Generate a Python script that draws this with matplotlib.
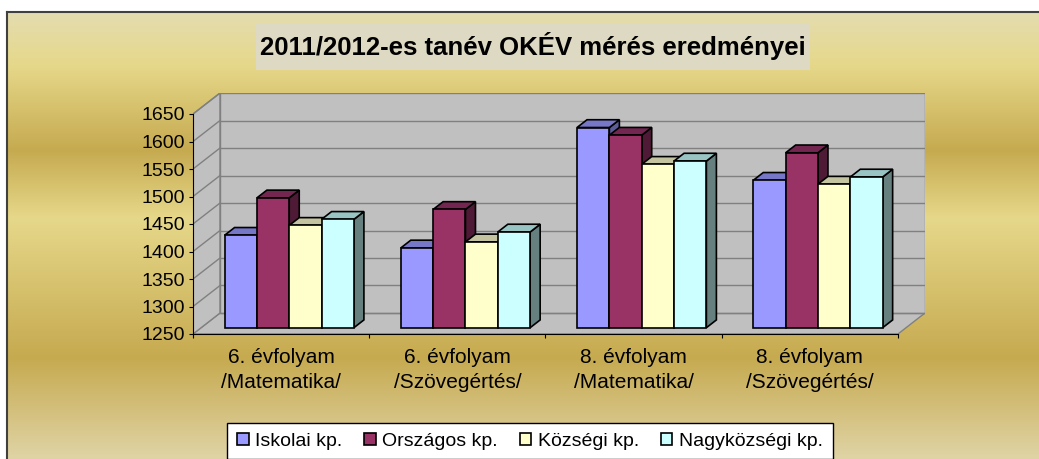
import matplotlib
matplotlib.use('Agg')
import matplotlib.pyplot as plt
from matplotlib.patches import Polygon, Rectangle, Patch
import numpy as np

plt.rcParams['font.family'] = ['Liberation Sans', 'DejaVu Sans']

# data
categories = ['6. évfolyam\n/Matematika/', '6. évfolyam\n/Szövegértés/',
              '8. évfolyam\n/Matematika/', '8. évfolyam\n/Szövegértés/']
series = ['Iskolai kp.', 'Országos kp.', 'Községi kp.', 'Nagyközségi kp.']
iskolai = [1418, 1395, 1614, 1518]
orszagos = [1486, 1465, 1600, 1568]
kozsegi = [1436, 1406, 1547, 1511]
nagykozsegi = [1447, 1424, 1553, 1524]
values = [iskolai, orszagos, kozsegi, nagykozsegi]
yticks = list(range(1250, 1651, 50))

front_cols = ['#9999ff', '#993366', '#ffffcc', '#ccffff']
top_cols = ['#7777c8', '#722650', '#c4c4a0', '#99c4c4']
side_cols = ['#5c5c99', '#4f1a35', '#80806a', '#668080']

W, H = 1039, 459
fig = plt.figure(figsize=(W / 100, H / 100), dpi=100)
fig.patch.set_facecolor('white')

# gold gradient background with border
bg = fig.add_axes([7 / W, 0, 1 - 7 / W, (H - 12) / H])
stops_y = [12, 65, 150, 218, 358, 459]
stops_c = ['#e4dcb0', '#e6d88a', '#c6aa50', '#e6d88a', '#c6aa50', '#e0d4a6']
rgb = np.array([matplotlib.colors.to_rgb(c) for c in stops_c])
yy = np.arange(12, 460)
grad = np.stack([np.interp(yy, stops_y, rgb[:, k]) for k in range(3)], axis=1)
bg.imshow(grad[:, None, :], aspect='auto', extent=(0, 1, 0, 1), origin='upper')
bg.set_xticks([])
bg.set_yticks([])
for s in ['right', 'bottom']:
    bg.spines[s].set_visible(False)
for s in ['top', 'left']:
    bg.spines[s].set_color('#404040')
    bg.spines[s].set_linewidth(1.5)

# title box
fig.patches.append(Rectangle((256 / W, 1 - 70 / H), (810 - 256) / W, 47 / H,
                             transform=fig.transFigure, facecolor='#ddd9c3',
                             edgecolor='none', zorder=2))
fig.text(533 / W, 1 - 46 / H, '2011/2012-es tanév OKÉV mérés eredményei',
         ha='center', va='center', fontsize=18.5, fontweight='bold', zorder=3)

# 3D-looking plot
ymin, ymax = 1250, 1650
DX = 27 / 176.0
DY = 21 / 0.55
ax = fig.add_axes([193 / W, (H - 334) / H, (925 - 193) / W, (334 - 93) / H])
ax.set_facecolor('none')
ax.set_xlim(0, len(categories) + DX)
ax.set_ylim(ymin, ymax + DY)
n = len(categories)


def P(x, v, d):
    return (x + d * DX, v + d * DY)


wall = '#c0c0c0'
edge = '#808080'
# floor
ax.add_patch(Polygon([P(0, ymin, 0), P(n, ymin, 0), P(n, ymin, 1), P(0, ymin, 1)],
                     closed=True, facecolor=wall, edgecolor=edge, lw=1.0, zorder=1))
# left wall
ax.add_patch(Polygon([P(0, ymin, 0), P(0, ymin, 1), P(0, ymax, 1), P(0, ymax, 0)],
                     closed=True, facecolor=wall, edgecolor=edge, lw=1.0, zorder=1))
# back wall
ax.add_patch(Polygon([P(0, ymin, 1), P(n, ymin, 1), P(n, ymax, 1), P(0, ymax, 1)],
                     closed=True, facecolor=wall, edgecolor=edge, lw=1.0, zorder=1))
for t in yticks[1:-1] + [ymin]:
    ax.plot(*zip(P(0, t, 1), P(n, t, 1)), color=edge, lw=1.0, zorder=1.5)
for t in yticks[1:]:
    ax.plot(*zip(P(0, t, 0), P(0, t, 1)), color=edge, lw=1.0, zorder=1.5)

# bars
w = 0.1835
d0, d1 = 0.3, 0.67
z = 3
for g in range(n):
    for s in range(len(series)):
        v = values[s][g]
        xl = g + 0.5 - 2 * w + s * w
        xr = xl + w
        ax.add_patch(Polygon([P(xr, ymin, d0), P(xr, ymin, d1), P(xr, v, d1), P(xr, v, d0)],
                             closed=True, facecolor=side_cols[s], edgecolor='black',
                             lw=1.2, zorder=z))
        ax.add_patch(Polygon([P(xl, v, d0), P(xr, v, d0), P(xr, v, d1), P(xl, v, d1)],
                             closed=True, facecolor=top_cols[s], edgecolor='black',
                             lw=1.2, zorder=z))
        ax.add_patch(Polygon([P(xl, ymin, d0), P(xr, ymin, d0), P(xr, v, d0), P(xl, v, d0)],
                             closed=True, facecolor=front_cols[s], edgecolor='black',
                             lw=1.2, zorder=z))
        z += 0.01

for s in ['top', 'right']:
    ax.spines[s].set_visible(False)
ax.spines['left'].set_bounds(ymin, ymax)
ax.spines['bottom'].set_bounds(0, n)
ax.spines['left'].set_zorder(10)
ax.spines['bottom'].set_zorder(10)
ax.set_yticks(yticks)
ax.tick_params(axis='y', labelsize=14, length=3, pad=3)
ax.set_xticks(range(n + 1))
ax.set_xticklabels([])
ax.tick_params(axis='x', which='major', length=3)
ax.set_xticks([g + 0.5 for g in range(n)], minor=True)
ax.set_xticklabels(categories, minor=True, fontsize=15, linespacing=1.4)
ax.tick_params(axis='x', which='minor', length=0, pad=10)

handles = [Patch(facecolor=front_cols[s], edgecolor='black', lw=1.2, label=series[s])
           for s in range(len(series))]
leg = fig.legend(handles=handles, loc='upper center', bbox_to_anchor=(530 / W, 1 - 423 / H),
                 ncol=4, fontsize=14, frameon=True, fancybox=False, edgecolor='black',
                 handlelength=0.6, handleheight=0.6, handletextpad=0.35, columnspacing=1.1,
                 borderpad=0.5, borderaxespad=0, framealpha=1)
leg.get_frame().set_linewidth(1.0)

fig.savefig('out.png', dpi=100, facecolor='white')
